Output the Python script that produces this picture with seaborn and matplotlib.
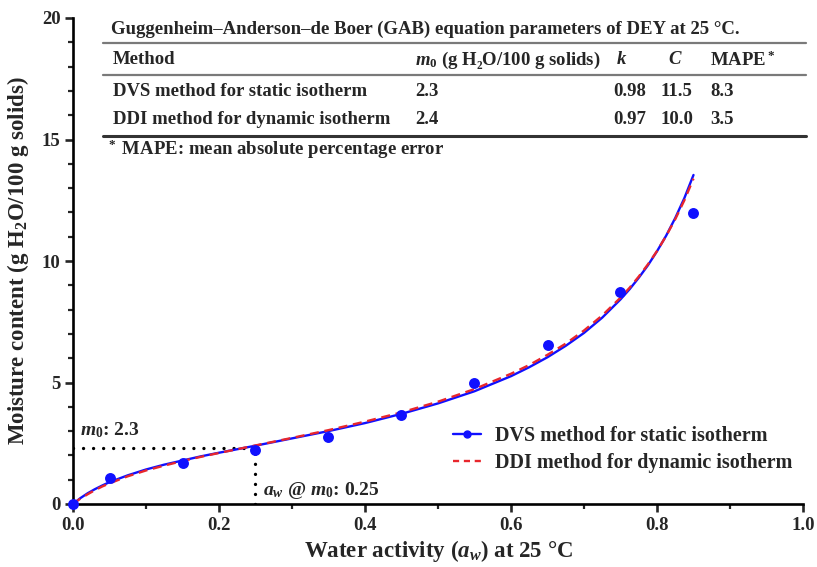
import matplotlib
matplotlib.use("Agg")
import matplotlib.pyplot as plt
from matplotlib.lines import Line2D
from matplotlib.ticker import MultipleLocator
import pandas as pd
import seaborn as sns

# measured points (DVS static isotherm)
aw_obs = [0.0, 0.05, 0.15, 0.25, 0.35, 0.45, 0.55, 0.65, 0.75, 0.85]
m_obs = [0.0, 1.07, 1.69, 2.21, 2.76, 3.66, 4.98, 6.56, 8.72, 11.97]

# GAB fitted curves
aw_fit = [0.0, 0.005, 0.01, 0.015, 0.02, 0.03, 0.04, 0.05, 0.075, 0.1, 0.125,
          0.15, 0.175, 0.2, 0.25, 0.3, 0.35, 0.4, 0.45, 0.5, 0.55, 0.6, 0.625,
          0.65, 0.675, 0.7, 0.725, 0.75, 0.7625, 0.775, 0.7875, 0.8, 0.8125,
          0.825, 0.8375, 0.85]
m_dvs = [0.0, 0.12, 0.24, 0.34, 0.44, 0.61, 0.76, 0.90, 1.18, 1.42, 1.62,
         1.79, 1.96, 2.11, 2.40, 2.70, 3.00, 3.33, 3.71, 4.14, 4.64, 5.26, 5.63,
         6.04, 6.51, 7.04, 7.67, 8.42, 8.84, 9.31, 9.82, 10.40, 11.04,
         11.77, 12.59, 13.54]
m_ddi = [0.0, 0.11, 0.22, 0.31, 0.40, 0.57, 0.72, 0.85, 1.14, 1.38, 1.58,
         1.77, 1.94, 2.10, 2.41, 2.72, 3.04, 3.39, 3.77, 4.21, 4.73, 5.36, 5.72,
         6.14, 6.60, 7.14, 7.76, 8.49, 8.90, 9.36, 9.86, 10.41, 11.03,
         11.72, 12.50, 13.39]

# table
tbl_title = "Guggenheim\u2013Anderson\u2013de Boer (GAB) equation parameters of DEY at 25 \u00b0C."
tbl_header = ["Method", "$m_0$ (g H\u2082O/100 g solids)", "$k$", "$C$", "MAPE$^*$"]
methods = ["DVS method for static isotherm", "DDI method for dynamic isotherm"]
m0_vals = ["2.3", "2.4"]
k_vals = ["0.98", "0.97"]
c_vals = ["11.5", "10.0"]
mape_vals = ["8.3", "3.5"]
footnote = "$^*$ MAPE: mean absolute percentage error"

m0_mark = 2.3
aw_mark = 0.25

sns.set_theme(style="ticks")
plt.rcParams.update({
    "font.family": ["Liberation Serif", "DejaVu Serif"],
    "font.weight": "bold",
    "mathtext.fontset": "custom",
    "mathtext.rm": "Liberation Serif:bold",
    "mathtext.it": "Liberation Serif:bold:italic",
    "mathtext.bf": "Liberation Serif:bold",
    "axes.linewidth": 1.9,
    "axes.edgecolor": "black",
})

W, H = 817, 567
fig = plt.figure(figsize=(W / 100, H / 100), dpi=100)
ax = fig.add_axes([73 / W, 1 - 504 / H, 730 / W, 486 / H])

fit = pd.DataFrame({"aw": aw_fit, "dvs": m_dvs, "ddi": m_ddi})
obs = pd.DataFrame({"aw": aw_obs, "m": m_obs})

blue = "#1010ff"
red = "#e8262c"

sns.lineplot(data=fit, x="aw", y="dvs", ax=ax, color=blue, lw=1.7, zorder=3)
sns.lineplot(data=fit, x="aw", y="ddi", ax=ax, color=red, lw=1.7,
             dashes=False, zorder=4)
ax.lines[-1].set_dashes([3.8, 2.4])
sns.scatterplot(data=obs, x="aw", y="m", ax=ax, color=blue, s=62,
                edgecolor=blue, linewidth=0, zorder=5, clip_on=False)

# m0 guide lines
dots = (0, (0.01, 3.0))
ax.plot([0, aw_mark], [m0_mark, m0_mark], ls=dots, lw=2.4, color="black",
        dash_capstyle="round", zorder=2)
ax.plot([aw_mark, aw_mark], [0, m0_mark], ls=dots, lw=2.4, color="black",
        dash_capstyle="round", zorder=2)
ax.text(0.01, m0_mark + 0.35, "$m_0$: 2.3", fontsize=14, fontweight="bold",
        ha="left", va="bottom")
ax.text(aw_mark + 0.01, 0.55, "$a_w$ @ $m_0$: 0.25", fontsize=14,
        fontweight="bold", ha="left", va="center")

ax.set_xlim(0, 1.0)
ax.set_ylim(0, 20)
ax.xaxis.set_major_locator(MultipleLocator(0.2))
ax.xaxis.set_minor_locator(MultipleLocator(0.1))
ax.yaxis.set_major_locator(MultipleLocator(5))
ax.yaxis.set_minor_locator(MultipleLocator(1))
ax.set_xticks([0, 0.2, 0.4, 0.6, 0.8, 1.0], ["0.0", "0.2", "0.4", "0.6", "0.8", "1.0"])
ax.tick_params(which="major", length=6, width=1.9, labelsize=13.5, pad=3, direction="out")
ax.tick_params(which="minor", length=3.5, width=1.6, direction="out")
for lab in ax.get_xticklabels() + ax.get_yticklabels():
    lab.set_fontweight("bold")
sns.despine(ax=ax)

ax.set_xlabel("Water activity ($a_w$) at 25 \u00b0C", fontsize=16.5, fontweight="bold", labelpad=3)
ax.set_ylabel("Moisture content (g H$_2$O/100 g solids)", fontsize=16.5,
              fontweight="bold", labelpad=8)

handles = [
    Line2D([], [], color=blue, lw=1.7, marker="o", markersize=5),
    Line2D([], [], color=red, lw=1.7, dashes=[2.6, 2.0]),
]
ax.legend(handles, ["DVS method for static isotherm", "DDI method for dynamic isotherm"],
          loc="upper left", bbox_to_anchor=(0.52, 0.16), frameon=False,
          borderaxespad=0, borderpad=0, handlelength=1.4, handletextpad=0.7,
          labelspacing=0.35, prop={"family": "Liberation Serif", "weight": "bold", "size": 14.5})

# parameter table drawn in figure pixels
def fx(x):
    return x / W


def fy(y):
    return 1 - y / H


tsize = 13.5
fig.text(fx(111), fy(29), tbl_title, fontsize=tsize, fontweight="bold", va="center")
fig.add_artist(Line2D([fx(103), fx(806)], [fy(43), fy(43)], color="#7a7a7a", lw=1.6))
col_x = [113, 415, 616, 668, 710]
for x, txt in zip(col_x, tbl_header):
    fig.text(fx(x), fy(60), txt, fontsize=tsize, fontweight="bold", va="center")
fig.add_artist(Line2D([fx(103), fx(806)], [fy(75), fy(75)], color="#7a7a7a", lw=1.6))
row_y = [92, 120]
for i, y in enumerate(row_y):
    row = [methods[i], m0_vals[i], k_vals[i], c_vals[i], mape_vals[i]]
    xs = [113, 415, 613, 661, 710]
    for x, txt in zip(xs, row):
        fig.text(fx(x), fy(y), txt, fontsize=tsize, fontweight="bold", va="center")
fig.add_artist(Line2D([fx(103), fx(806)], [fy(136), fy(136)], color="#333333", lw=2.2))
fig.text(fx(106), fy(149), footnote, fontsize=tsize, fontweight="bold", va="center")

fig.savefig("out.png", dpi=100, facecolor="white")
